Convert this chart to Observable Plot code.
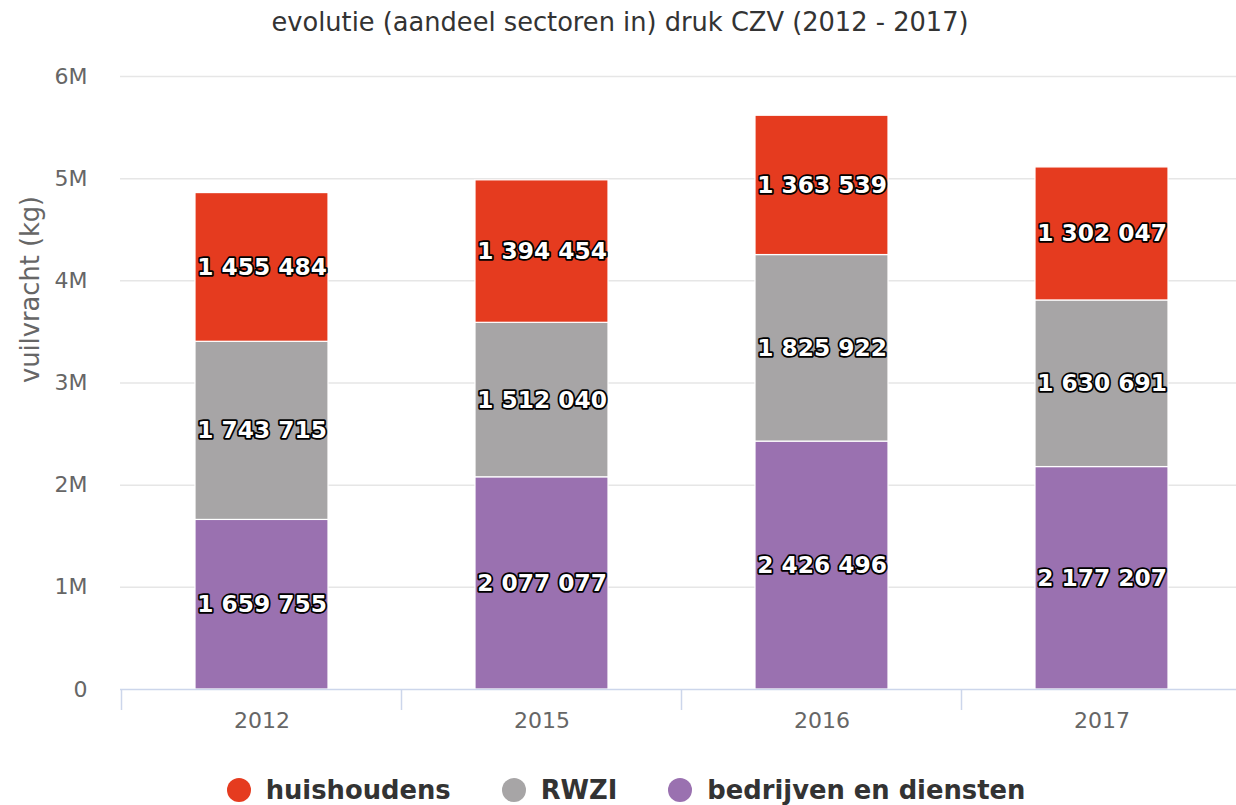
<!DOCTYPE html>
<html>
<head>
<meta charset="utf-8">
<script src="https://cdn.jsdelivr.net/npm/d3@7"></script>
<script src="https://cdn.jsdelivr.net/npm/@observablehq/plot@0.6"></script>
<style>
  html, body { margin: 0; padding: 0; background: #fff; overflow: hidden; width: 1236px; height: 805px; }
  #wrap { position: relative; width: 1236px; height: 805px; font-family: "DejaVu Sans", sans-serif; overflow: hidden; }
  #title { position: absolute; left: 0; top: 0; width: 1240px; height: 44px; line-height: 44px; text-align: center; font-size: 25.7px; color: #333; z-index: 2; }
  #chart { position: absolute; left: 0; top: 0; }
  #legend { position: absolute; left: 8px; top: 770px; width: 1236px; height: 40px; display: flex; justify-content: center; align-items: center; gap: 51px; }
  .item { display: flex; align-items: center; font-weight: bold; font-size: 25.8px; color: #333; }
  .dot { width: 24px; height: 24px; border-radius: 50%; margin-right: 15px; }
</style>
</head>
<body>
<div id="wrap">
  <div id="title"></div>
  <div id="chart"></div>
  <div id="legend"></div>
</div>
<script>
const titleText = "evolutie (aandeel sectoren in) druk CZV (2012 - 2017)";
const yLabel = "vuilvracht (kg)";
const years = ["2012", "2015", "2016", "2017"];
const sectors = ["huishoudens", "RWZI", "bedrijven en diensten"];
const sectorColors = ["#e53b1f", "#a7a5a6", "#9a71b0"];
const huishoudens = [1455484, 1394454, 1363539, 1302047];
const rwzi = [1743715, 1512040, 1825922, 1630691];
const bedrijven = [1659755, 2077077, 2426496, 2177207];
const yTicks = [0, 1000000, 2000000, 3000000, 4000000, 5000000, 6000000];

const seriesBySector = {
  "huishoudens": huishoudens,
  "RWZI": rwzi,
  "bedrijven en diensten": bedrijven
};
const stackOrder = ["bedrijven en diensten", "RWZI", "huishoudens"];
const data = years.flatMap((year, i) =>
  stackOrder.map(sector => ({year, sector, value: seriesBySector[sector][i]}))
);
const fmt = v => d3.format(",")(v).replace(/,/g, " ");

document.getElementById("title").textContent = titleText;

const plot = Plot.plot({
  width: 1243,
  height: 760,
  marginLeft: 120,
  marginRight: 0,
  marginTop: 76,
  marginBottom: 71,
  style: {fontFamily: "DejaVu Sans, sans-serif", background: "transparent", overflow: "visible", maxWidth: "none"},
  x: {domain: years, paddingInner: 0.526, paddingOuter: 0.263, label: null},
  y: {domain: [0, 6000000], label: null},
  color: {domain: sectors, range: sectorColors},
  marks: [
    Plot.gridY(yTicks.filter(d => d > 0), {stroke: "#e6e6e6", strokeOpacity: 1, strokeWidth: 1.5}),
    Plot.axisY(yTicks, {
      tickSize: 0, tickPadding: 33, fontSize: 22, fill: "#666",
      tickFormat: d => d === 0 ? "0" : (d / 1e6) + "M", label: null
    }),
    Plot.text([yLabel], {
      frameAnchor: "left", rotate: -90, dx: -90, fontSize: 25.7, fill: "#666"
    }),
    Plot.axisX({tickSize: 0, tickPadding: 23, fontSize: 22, fill: "#666", label: null}),
    Plot.barY(data, Plot.stackY({
      x: "year", y: "value", fill: "sector", order: stackOrder,
      stroke: "#fff", strokeWidth: 1.2
    })),
    Plot.ruleY([0], {stroke: "#ccd6eb", strokeWidth: 1.5}),
    Plot.text(data, Plot.stackY({
      x: "year", y: "value", z: "sector", order: stackOrder,
      text: d => fmt(d.value),
      fill: "#fff", stroke: "#000", strokeWidth: 3.5, strokeLinejoin: "round", paintOrder: "stroke",
      fontWeight: "bold", fontSize: 23.3
    }))
  ]
});

// category boundary tick marks (Highcharts style) derived from the x scale
const xs = plot.scale("x");
const ys = plot.scale("y");
const y0 = ys.apply(0);
const bounds = years.map(y => xs.apply(y) + xs.bandwidth / 2 - xs.step / 2);
bounds.push(bounds[bounds.length - 1] + xs.step);
d3.select(plot).append("g")
  .selectAll("line").data(bounds).join("line")
  .attr("x1", d => d).attr("x2", d => d)
  .attr("y1", y0).attr("y2", y0 + 21)
  .attr("stroke", "#ccd6eb").attr("stroke-width", 1.5);

document.getElementById("chart").appendChild(plot);

const legend = document.getElementById("legend");
sectors.forEach((s, i) => {
  const item = document.createElement("div");
  item.className = "item";
  const dot = document.createElement("span");
  dot.className = "dot";
  dot.style.background = sectorColors[i];
  const label = document.createElement("span");
  label.textContent = s;
  item.appendChild(dot);
  item.appendChild(label);
  legend.appendChild(item);
});
</script>
</body>
</html>
